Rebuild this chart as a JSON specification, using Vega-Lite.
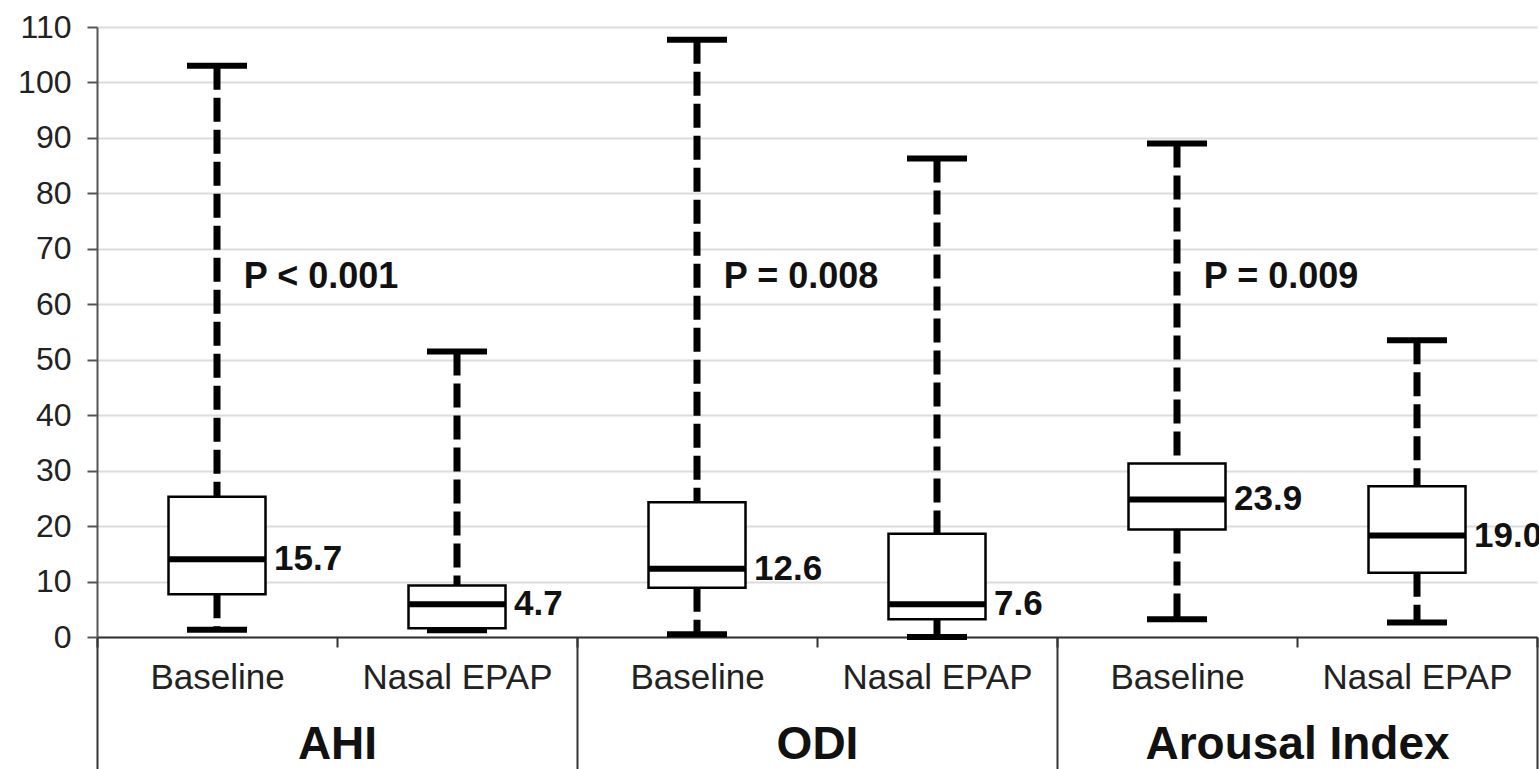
{
  "$schema": "https://vega.github.io/schema/vega-lite/v6.json",
  "width": 1440,
  "height": 610,
  "autosize": "none",
  "padding": {"left": 97, "top": 27, "right": 2, "bottom": 132},
  "background": "white",
  "config": {
    "view": {"stroke": null},
    "font": "Liberation Sans, Arial, sans-serif"
  },
  "datasets": {
    "boxes": [
      {"cat": "AHI|Baseline", "lo": 1.3, "q1": 7.7, "med": 14.0, "q3": 25.3, "hi": 103.0, "label": "15.7"},
      {"cat": "AHI|Nasal EPAP", "lo": 1.2, "q1": 1.6, "med": 5.9, "q3": 9.3, "hi": 51.5, "label": "4.7"},
      {"cat": "ODI|Baseline", "lo": 0.5, "q1": 8.9, "med": 12.3, "q3": 24.3, "hi": 107.7, "label": "12.6"},
      {"cat": "ODI|Nasal EPAP", "lo": 0.0, "q1": 3.2, "med": 5.9, "q3": 18.6, "hi": 86.3, "label": "7.6"},
      {"cat": "Arousal Index|Baseline", "lo": 3.2, "q1": 19.4, "med": 24.8, "q3": 31.3, "hi": 89.0, "label": "23.9"},
      {"cat": "Arousal Index|Nasal EPAP", "lo": 2.6, "q1": 11.6, "med": 18.3, "q3": 27.2, "hi": 53.5, "label": "19.0"}
    ],
    "pvals": [
      {"group": "AHI", "p": "P < 0.001"},
      {"group": "ODI", "p": "P = 0.008"},
      {"group": "Arousal Index", "p": "P = 0.009"}
    ]
  },
  "layer": [
    {
      "data": {"name": "boxes"},
      "encoding": {
        "x": {
          "field": "cat",
          "type": "nominal",
          "sort": null,
          "scale": {
            "domain": ["AHI|Baseline", "AHI|Nasal EPAP", "ODI|Baseline", "ODI|Nasal EPAP", "Arousal Index|Baseline", "Arousal Index|Nasal EPAP"],
            "paddingInner": 0,
            "paddingOuter": 0
          },
          "axis": {
            "orient": "bottom",
            "title": null,
            "labelExpr": "split(datum.label, '|')[1]",
            "labelAngle": 0,
            "labelLimit": 1000,
            "labelFontSize": 35,
            "labelColor": "#222",
            "labelPadding": 13,
            "domainColor": "#333",
            "domainWidth": 2,
            "tickBand": "extent",
            "tickSize": 10,
            "tickWidth": 2,
            "tickColor": "#333",
            "grid": false
          }
        }
      },
      "layer": [
        {
          "mark": {"type": "rule", "color": "black", "strokeWidth": 7, "strokeDash": [24, 8]},
          "encoding": {
            "y": {
              "field": "hi",
              "type": "quantitative",
              "scale": {"domain": [0, 110], "nice": false, "zero": true},
              "axis": {
                "title": null,
                "values": [0, 10, 20, 30, 40, 50, 60, 70, 80, 90, 100, 110],
                "labelFontSize": 32,
                "labelColor": "#222",
                "labelPadding": 16,
                "tickSize": 10,
                "tickWidth": 2,
                "tickColor": "#555",
                "domainColor": "#555",
                "domainWidth": 2,
                "grid": true,
                "gridColor": "#dcdcdc",
                "gridWidth": 2
              }
            },
            "y2": {"field": "q3"}
          }
        },
        {
          "mark": {"type": "rule", "color": "black", "strokeWidth": 7, "strokeDash": [24, 8]},
          "encoding": {
            "y": {"field": "q1", "type": "quantitative"},
            "y2": {"field": "lo"}
          }
        },
        {
          "mark": {"type": "bar", "width": 97, "fill": "white", "stroke": "black", "strokeWidth": 2.5},
          "encoding": {
            "y": {"field": "q1", "type": "quantitative"},
            "y2": {"field": "q3"}
          }
        },
        {
          "mark": {"type": "tick", "size": 97, "thickness": 6, "color": "black", "opacity": 1},
          "encoding": {"y": {"field": "med", "type": "quantitative"}}
        },
        {
          "mark": {"type": "tick", "size": 60, "thickness": 6, "color": "black", "opacity": 1},
          "encoding": {"y": {"field": "hi", "type": "quantitative"}}
        },
        {
          "mark": {"type": "tick", "size": 60, "thickness": 6, "color": "black", "opacity": 1},
          "encoding": {"y": {"field": "lo", "type": "quantitative"}}
        },
        {
          "mark": {"type": "text", "align": "left", "baseline": "middle", "dx": 57, "fontSize": 35, "fontWeight": "bold", "color": "#111"},
          "encoding": {
            "y": {"field": "med", "type": "quantitative"},
            "text": {"field": "label"}
          }
        }
      ]
    },
    {
      "data": {"name": "pvals"},
      "mark": {"type": "text", "align": "center", "baseline": "middle", "dx": -16, "fontSize": 36, "fontWeight": "bold", "color": "#111"},
      "encoding": {
        "x": {
          "field": "group",
          "type": "nominal",
          "sort": null,
          "scale": {"domain": ["AHI", "ODI", "Arousal Index"], "paddingInner": 0, "paddingOuter": 0},
          "axis": {
            "orient": "bottom",
            "title": null,
            "labelAngle": 0,
            "labelLimit": 1000,
            "domain": false,
            "grid": false,
            "tickBand": "extent",
            "tickSize": 132,
            "tickWidth": 2,
            "tickColor": "#333",
            "labelPadding": -25,
            "labelBaseline": "middle",
            "labelFontSize": 46,
            "labelFontWeight": "bold",
            "labelColor": "#111"
          }
        },
        "y": {"datum": 65, "type": "quantitative"},
        "text": {"field": "p"}
      }
    }
  ],
  "resolve": {"scale": {"x": "independent"}, "axis": {"x": "independent"}}
}
